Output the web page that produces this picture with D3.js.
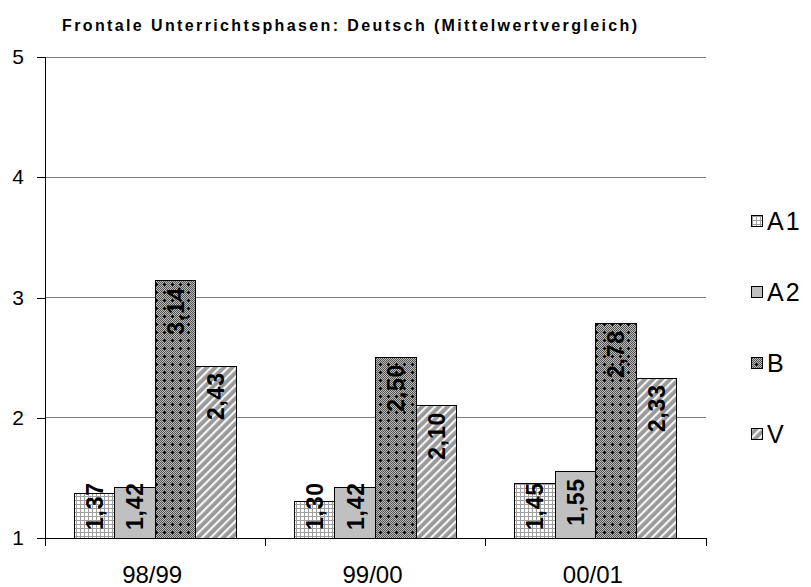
<!DOCTYPE html>
<html>
<head>
<meta charset="utf-8">
<script src="https://cdn.jsdelivr.net/npm/d3@7"></script>
<style>
  body { margin: 0; background: #fff; }
</style>
</head>
<body>
<svg id="chart" width="811" height="587"></svg>
<script>
// chart data
const years = ["98/99", "99/00", "00/01"];
const groups = ["A1", "A2", "B", "V"];
const valuesA1 = [1.37, 1.30, 1.45];
const valuesA2 = [1.42, 1.42, 1.55];
const valuesB = [3.14, 2.50, 2.78];
const valuesV = [2.43, 2.10, 2.33];
const yTicks = [1, 2, 3, 4, 5];
const titleText = "Frontale Unterrichtsphasen: Deutsch (Mittelwertvergleich)";

const seriesValues = { A1: valuesA1, A2: valuesA2, B: valuesB, V: valuesV };
const FONT = '"Liberation Sans", Arial, Helvetica';

const svg = d3.select("#chart");
const plotLeft = 45, plotRight = 706, plotTop = 57, plotBottom = 538;

const x = d3.scaleBand().domain(years).range([plotLeft, plotRight]);
const xInner = d3.scaleBand().domain(groups)
    .range([0, x.bandwidth()]).paddingOuter(0.72).paddingInner(0);
const y = d3.scaleLinear().domain([1, 5]).range([plotBottom, plotTop]);

// patterns
const defs = svg.append("defs");

let pA1 = defs.append("pattern").attr("id", "pat-A1")
    .attr("patternUnits", "userSpaceOnUse").attr("width", 4).attr("height", 4);
pA1.append("rect").attr("width", 4).attr("height", 4).attr("fill", "#fff");
pA1.append("rect").attr("x", 0).attr("y", 0).attr("width", 4).attr("height", 1).attr("fill", "#a0a0a0");
pA1.append("rect").attr("x", 0).attr("y", 0).attr("width", 1).attr("height", 4).attr("fill", "#a0a0a0");

let pA2 = defs.append("pattern").attr("id", "pat-A2")
    .attr("patternUnits", "userSpaceOnUse").attr("width", 4).attr("height", 4);
pA2.append("rect").attr("width", 4).attr("height", 4).attr("fill", "#c0c0c0");

let pB = defs.append("pattern").attr("id", "pat-B")
    .attr("patternUnits", "userSpaceOnUse").attr("width", 8).attr("height", 8);
for (let i = 0; i < 8; i++) {
    for (let j = 0; j < 8; j++) {
        pB.append("rect").attr("x", i).attr("y", j).attr("width", 1).attr("height", 1)
            .attr("fill", (i + j) % 2 == 0 ? "#505050" : "#bcbcbc");
    }
}
pB.append("rect").attr("x", 3).attr("y", 4).attr("width", 3).attr("height", 1).attr("fill", "#000");
pB.append("rect").attr("x", 4).attr("y", 3).attr("width", 1).attr("height", 3).attr("fill", "#000");

let pV = defs.append("pattern").attr("id", "pat-V")
    .attr("patternUnits", "userSpaceOnUse").attr("width", 6).attr("height", 6)
    .attr("patternTransform", "rotate(45)");
pV.append("rect").attr("width", 6).attr("height", 6).attr("fill", "#999");
pV.append("rect").attr("x", 0).attr("width", 2.2).attr("height", 6).attr("fill", "#f4f4f4");

// title
svg.append("text")
    .attr("x", 62).attr("y", 31)
    .attr("textLength", 575).attr("lengthAdjust", "spacing")
    .style("font-family", FONT)
    .style("font-size", "16px").style("font-weight", "bold")
    .text(titleText);

// gridlines
svg.append("g").selectAll("line")
    .data(yTicks.filter(d => d > 1))
    .join("line")
    .attr("x1", plotLeft).attr("x2", plotRight)
    .attr("y1", d => y(d)).attr("y2", d => y(d))
    .attr("stroke", "#808080").attr("stroke-width", 1)
    .attr("shape-rendering", "crispEdges");

// y axis
const yAxis = svg.append("g")
    .attr("transform", `translate(${plotLeft},0)`)
    .call(d3.axisLeft(y).tickValues(yTicks).tickFormat(d3.format("d")).tickSize(8).tickPadding(13));
yAxis.select(".domain").attr("stroke", "#000").attr("shape-rendering", "crispEdges");
yAxis.selectAll(".tick line").attr("stroke", "#000").attr("shape-rendering", "crispEdges");
yAxis.selectAll("text").attr("fill", "#000")
    .style("font-size", "21px").style("font-family", FONT);

// bars
const rows = [];
years.forEach((yr, i) => {
    groups.forEach(g => rows.push({ year: yr, group: g, value: seriesValues[g][i] }));
});

const barG = svg.append("g");
barG.selectAll("rect")
    .data(rows)
    .join("rect")
    .attr("x", d => x(d.year) + xInner(d.group))
    .attr("y", d => y(d.value))
    .attr("width", xInner.bandwidth())
    .attr("height", d => y(1) - y(d.value))
    .attr("fill", d => `url(#pat-${d.group})`)
    .attr("stroke", "#000").attr("stroke-width", 1)
    .attr("shape-rendering", "crispEdges");

// value labels, rotated, inside end but kept above the base
const labelLen = 47;
barG.selectAll("text")
    .data(rows)
    .join("text")
    .attr("transform", d => {
        let cx = x(d.year) + xInner(d.group) + xInner.bandwidth() / 2;
        let yEnd = Math.min(y(d.value) + 7, y(1) - 8 - labelLen);
        return `translate(${cx},${yEnd + labelLen}) rotate(-90)`;
    })
    .attr("dy", "0.36em")
    .attr("textLength", labelLen).attr("lengthAdjust", "spacing")
    .style("font-family", FONT)
    .style("font-size", "23px").style("font-weight", "bold")
    .text(d => d3.format(".2f")(d.value).replace(".", ","));

// x axis
const xAxis = svg.append("g")
    .attr("transform", `translate(0,${plotBottom})`);
xAxis.append("line").attr("x1", plotLeft).attr("x2", plotRight).attr("y1", 0).attr("y2", 0)
    .attr("stroke", "#000").attr("shape-rendering", "crispEdges");
xAxis.selectAll(".sep")
    .data(years.map(d => x(d) + x.bandwidth()).concat([plotLeft]))
    .join("line")
    .attr("class", "sep")
    .attr("x1", d => d).attr("x2", d => d)
    .attr("y1", 0).attr("y2", 8)
    .attr("stroke", "#000").attr("shape-rendering", "crispEdges");
xAxis.selectAll("text")
    .data(years)
    .join("text")
    .attr("x", d => x(d) + x.bandwidth() / 2 - 3)
    .attr("y", 45)
    .attr("text-anchor", "middle")
    .style("font-family", FONT)
    .style("font-size", "24px")
    .text(d => d);

// legend
const legend = svg.append("g");
const legY = d3.scalePoint().domain(groups).range([220, 433]);
legend.selectAll("rect")
    .data(groups)
    .join("rect")
    .attr("x", 751).attr("y", d => legY(d) - 5)
    .attr("width", 11).attr("height", 11)
    .attr("fill", d => `url(#pat-${d})`)
    .attr("stroke", "#000").attr("stroke-width", 1)
    .attr("shape-rendering", "crispEdges");
legend.selectAll("text")
    .data(groups)
    .join("text")
    .attr("x", 767).attr("y", d => legY(d) + 1)
    .attr("dy", "0.36em")
    .style("font-family", FONT)
    .style("font-size", "25px")
    .style("letter-spacing", "2px")
    .text(d => d);
</script>
</body>
</html>
